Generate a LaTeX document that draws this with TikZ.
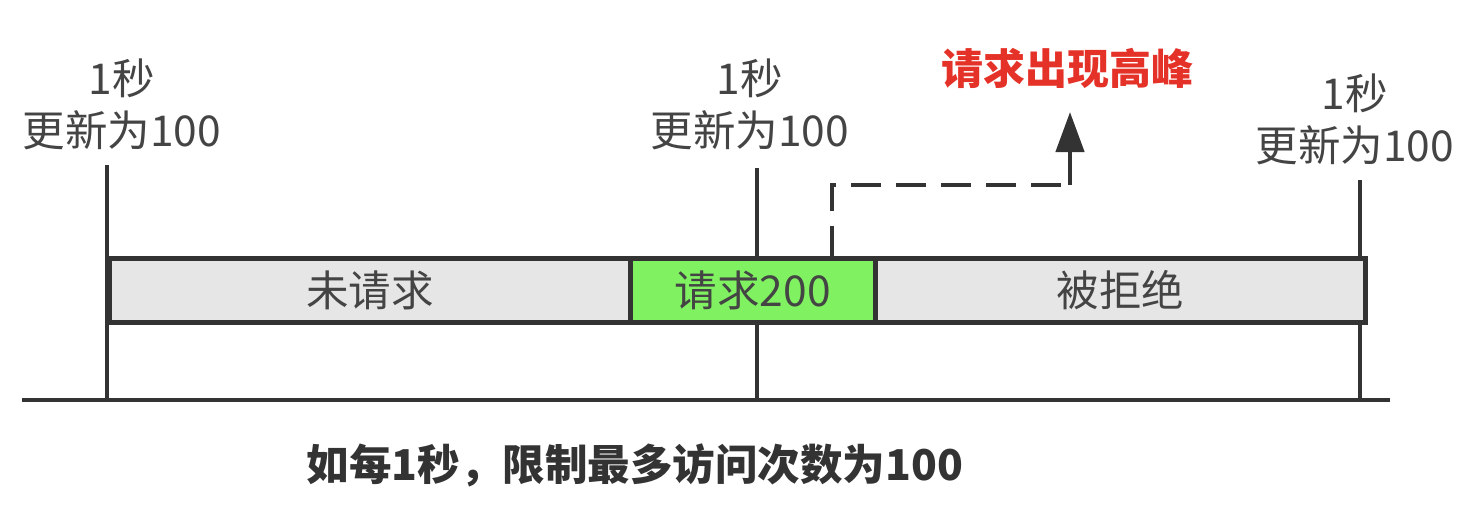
\documentclass[tikz,border=0pt]{standalone}
\usepackage{fontspec}
\setmainfont{Noto Sans CJK SC}
\usetikzlibrary{arrows.meta}
\definecolor{ink}{HTML}{333333}
\definecolor{txt}{HTML}{444444}
\definecolor{barg}{HTML}{E6E6E6}
\definecolor{bargreen}{HTML}{80F262}
\definecolor{peak}{HTML}{E53228}
\tikzset{
  seg/.style={draw=ink, line width=4.5pt, minimum height=64pt, inner sep=0pt, font=\fontsize{42.5}{44}\selectfont, text=txt},
  lbl/.style={font=\fontsize{42.5}{52}\selectfont, text=txt, align=center, inner sep=0pt},
  tick/.style={draw=ink, line width=4.5pt},
}
\begin{document}
\begin{tikzpicture}[x=1pt,y=-1pt]
\useasboundingbox (0,0) rectangle (1482,504);
% ticks (behind bar)
\coordinate (t1a) at (107,165);
\coordinate (t1b) at (107,400);
\coordinate (t2a) at (757,168);
\coordinate (t2b) at (757,400);
\coordinate (t3a) at (1360,180);
\coordinate (t3b) at (1360,400);
\draw[tick] (t1a) -- (t1b);
\draw[tick] (t2a) -- (t2b);
\draw[tick] (t3a) -- (t3b);
% bar segments
\node[seg, fill=barg, minimum width=521pt, anchor=north west] (s1) at (107,256) {未请求};
\node[seg, fill=bargreen, minimum width=245pt, anchor=north west] (s2) at (628,256) {请求200};
\node[seg, fill=barg, minimum width=490pt, anchor=north west] (s3) at (873,256) {被拒绝};
% baseline
\coordinate (b0) at (22,400);
\coordinate (b1) at (1390,400);
\draw[tick] (b0) -- (b1);
% labels
\node[lbl] (l1) at (122,104) {1秒\\更新为100};
\node[lbl] (l2) at (750,104) {1秒\\更新为100};
\node[lbl] (l3) at (1355,119) {1秒\\更新为100};
% peak
\node[font=\fontsize{42}{44}\selectfont\bfseries, text=peak, inner sep=0pt] (pk) at (1067,68) {请求出现高峰};
\coordinate (d0) at (832,256);
\coordinate (d1) at (832,185);
\coordinate (d2) at (1070,185);
\coordinate (d3) at (1070,112);
\draw[draw=ink, line width=4.5pt, dash pattern=on 30pt off 15pt] (d0) -- (d1) -- (d2);
\draw[draw=ink, line width=4.5pt, -{Triangle[length=40pt,width=28pt]}] (d2) -- (d3);
% caption
\node[font=\fontsize{42.5}{44}\selectfont\bfseries, text=ink, inner sep=0pt] (cap) at (635,465) {如每1秒，限制最多访问次数为100};
\end{tikzpicture}
\end{document}
